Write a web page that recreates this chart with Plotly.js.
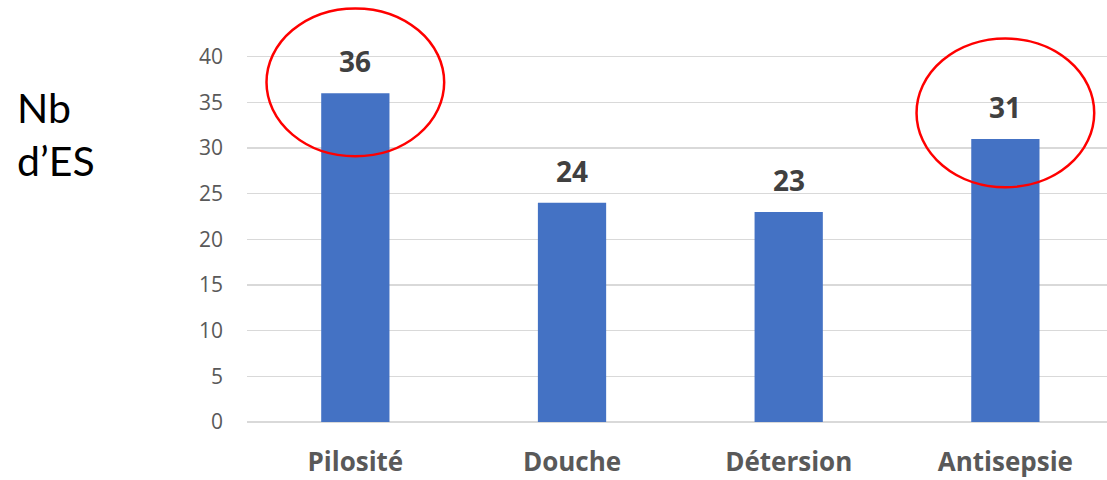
<!DOCTYPE html>
<html><head><meta charset="utf-8">
<script src="https://cdn.plot.ly/plotly-3.0.1.min.js"></script>
<style>html,body{margin:0;padding:0;background:#fff}</style>
</head><body>
<div id="chart" style="width:1107px;height:480px"></div>
<script>
const categories = ["Pilosité", "Douche", "Détersion", "Antisepsie"];
const values = [36, 24, 23, 31];
const yTicks = [0, 5, 10, 15, 20, 25, 30, 35, 40];

const FONT = "'Open Sans', 'Noto Sans', sans-serif";

const trace = {
  type: "bar",
  x: categories,
  y: values,
  width: 0.315,
  marker: {color: "#4472c4"},
  hoverinfo: "skip"
};

const annotations = values.map((v, i) => ({
  x: categories[i], y: v, xref: "x", yref: "y",
  text: "<b>" + v + "</b>", showarrow: false,
  yanchor: "bottom", yshift: 11,
  font: {family: FONT, size: 28, color: "#404040"}
}));
annotations.push({
  xref: "paper", yref: "paper", x: -0.27, y: 0.685, xanchor: "left", yanchor: "middle",
  text: "Nb<br>d’ES", showarrow: false, align: "left",
  font: {family: "Lato, 'Open Sans', sans-serif", size: 41, color: "#000"}
});

const ellipseSpecs = [[0, 29.1, 45.3], [3, 25.7, 42.0]];
const shapes = ellipseSpecs.map(([i, y0, y1]) => ({
  type: "circle", xref: "x", yref: "y",
  x0: i - 0.41, x1: i + 0.41, y0: y0, y1: y1,
  line: {color: "#ff0000", width: 2.5}
}));

const layout = {
  width: 1107, height: 480,
  margin: {l: 247, r: 0, t: 2, b: 58},
  paper_bgcolor: "#fff", plot_bgcolor: "#fff",
  showlegend: false,
  xaxis: {
    type: "category", range: [-0.5, 3.469],
    showgrid: false, zeroline: false, showline: false,
    ticks: "", ticklabelstandoff: 22,
    tickfont: {family: FONT, size: 26, color: "#595959", weight: "bold"}
  },
  yaxis: {
    range: [0, 46], tickvals: yTicks,
    showgrid: true, gridcolor: "#d9d9d9", gridwidth: 1.3,
    zeroline: true, zerolinecolor: "#d9d9d9", zerolinewidth: 1.3,
    showline: false, ticks: "", ticklabelstandoff: 23,
    tickfont: {family: FONT, size: 21, color: "#595959"}
  },
  annotations: annotations,
  shapes: shapes
};

Plotly.newPlot("chart", [trace], layout, {staticPlot: true, displayModeBar: false});
</script>
</body></html>
